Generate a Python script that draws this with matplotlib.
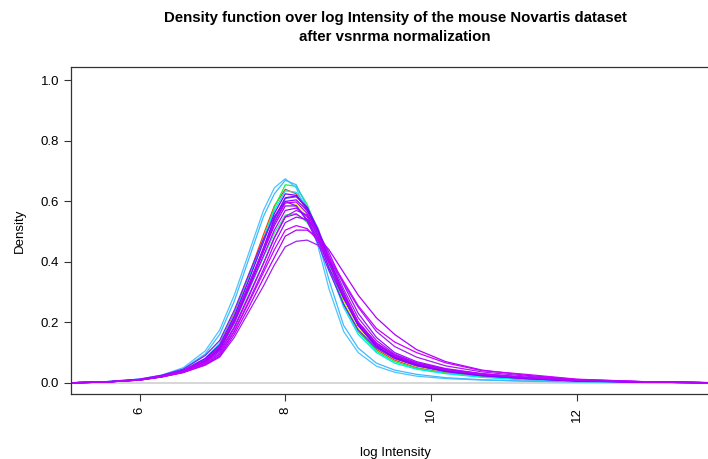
import matplotlib
matplotlib.use("Agg")
import matplotlib.pyplot as plt

plt.rcParams['font.family'] = ['Liberation Sans', 'DejaVu Sans']

# shared x grid (log intensity) for all density curves
x_grid = [5.0, 5.5, 6.0, 6.3, 6.6, 6.9, 7.1, 7.3, 7.5, 7.7, 7.85, 8.0, 8.15,
          8.3, 8.45, 8.6, 8.8, 9.0, 9.25, 9.5, 9.8, 10.2, 10.7, 11.3, 12.0,
          13.0, 14.0]

# density values, one list per sample (drawing order)
dens_red = [0, 0.002, 0.011, 0.023, 0.042, 0.08, 0.13, 0.23, 0.355, 0.49, 0.585, 0.64, 0.625,
            0.57, 0.49, 0.38, 0.26, 0.17, 0.11, 0.075, 0.05, 0.033, 0.02, 0.011, 0.005, 0.002, 0]
dens_yellow = [0, 0.002, 0.01, 0.022, 0.04, 0.075, 0.12, 0.21, 0.325, 0.445, 0.535, 0.595, 0.59,
               0.55, 0.48, 0.39, 0.27, 0.18, 0.115, 0.08, 0.055, 0.036, 0.022, 0.013, 0.006, 0.002, 0]
dens_green1 = [0, 0.002, 0.01, 0.021, 0.04, 0.075, 0.125, 0.22, 0.345, 0.475, 0.58, 0.655, 0.65,
               0.59, 0.50, 0.39, 0.26, 0.17, 0.105, 0.07, 0.048, 0.032, 0.02, 0.011, 0.005, 0.002, 0]
dens_green2 = [0, 0.002, 0.01, 0.021, 0.038, 0.07, 0.11, 0.195, 0.305, 0.415, 0.495, 0.555, 0.56,
               0.53, 0.47, 0.39, 0.28, 0.19, 0.12, 0.085, 0.06, 0.04, 0.025, 0.015, 0.007, 0.002, 0]
dens_cyan = [0, 0.002, 0.01, 0.022, 0.042, 0.08, 0.13, 0.225, 0.345, 0.475, 0.57, 0.635, 0.63,
             0.58, 0.49, 0.38, 0.25, 0.16, 0.10, 0.065, 0.045, 0.03, 0.018, 0.01, 0.005, 0.002, 0]
dens_sky1 = [0, 0.003, 0.012, 0.025, 0.05, 0.105, 0.175, 0.29, 0.43, 0.57, 0.645, 0.675, 0.645,
             0.56, 0.45, 0.31, 0.17, 0.10, 0.055, 0.035, 0.022, 0.014, 0.009, 0.005, 0.003, 0.001, 0]
dens_sky2 = [0, 0.003, 0.012, 0.024, 0.046, 0.095, 0.16, 0.27, 0.41, 0.55, 0.625, 0.67, 0.655,
             0.58, 0.47, 0.34, 0.19, 0.115, 0.065, 0.042, 0.028, 0.017, 0.01, 0.006, 0.003, 0.001, 0]
dens_blue = [0, 0.002, 0.01, 0.022, 0.04, 0.072, 0.115, 0.205, 0.325, 0.445, 0.54, 0.61, 0.615,
             0.58, 0.51, 0.41, 0.29, 0.19, 0.12, 0.082, 0.058, 0.038, 0.024, 0.014, 0.006, 0.002, 0]
dens_p1 = [0, 0.002, 0.01, 0.022, 0.04, 0.08, 0.125, 0.22, 0.34, 0.465, 0.56, 0.625, 0.62,
           0.575, 0.50, 0.40, 0.28, 0.19, 0.12, 0.085, 0.06, 0.04, 0.025, 0.015, 0.007, 0.002, 0]
dens_p2 = [0, 0.002, 0.01, 0.021, 0.038, 0.07, 0.11, 0.20, 0.315, 0.435, 0.53, 0.60, 0.605,
           0.57, 0.50, 0.41, 0.30, 0.20, 0.13, 0.09, 0.064, 0.042, 0.027, 0.016, 0.007, 0.002, 0]
dens_p3 = [0, 0.002, 0.01, 0.022, 0.04, 0.075, 0.12, 0.21, 0.325, 0.435, 0.52, 0.585, 0.585,
           0.54, 0.475, 0.38, 0.28, 0.195, 0.125, 0.09, 0.064, 0.042, 0.027, 0.016, 0.007, 0.002, 0]
dens_p4 = [0, 0.002, 0.009, 0.02, 0.036, 0.065, 0.10, 0.18, 0.285, 0.395, 0.48, 0.55, 0.57,
           0.555, 0.50, 0.42, 0.31, 0.215, 0.14, 0.095, 0.066, 0.044, 0.028, 0.017, 0.008, 0.002, 0]
dens_p5 = [0, 0.003, 0.012, 0.025, 0.045, 0.09, 0.14, 0.24, 0.36, 0.475, 0.55, 0.60, 0.585,
           0.535, 0.46, 0.37, 0.26, 0.175, 0.115, 0.08, 0.056, 0.037, 0.023, 0.014, 0.006, 0.002, 0]
dens_p6 = [0, 0.002, 0.009, 0.02, 0.036, 0.062, 0.095, 0.17, 0.27, 0.375, 0.46, 0.53, 0.548,
           0.54, 0.50, 0.43, 0.325, 0.23, 0.15, 0.10, 0.07, 0.047, 0.03, 0.018, 0.008, 0.002, 0]
dens_p7 = [0, 0.002, 0.01, 0.021, 0.039, 0.072, 0.115, 0.205, 0.32, 0.445, 0.545, 0.612, 0.618,
           0.58, 0.505, 0.405, 0.285, 0.19, 0.12, 0.083, 0.058, 0.038, 0.024, 0.014, 0.006, 0.002, 0]
dens_p8 = [0, 0.002, 0.01, 0.022, 0.04, 0.073, 0.115, 0.20, 0.31, 0.42, 0.505, 0.57, 0.578,
           0.55, 0.485, 0.40, 0.29, 0.20, 0.13, 0.09, 0.064, 0.043, 0.028, 0.017, 0.008, 0.002, 0]
dens_p9 = [0, 0.002, 0.009, 0.019, 0.034, 0.058, 0.085, 0.15, 0.235, 0.32, 0.39, 0.45, 0.468,
           0.472, 0.455, 0.41, 0.33, 0.25, 0.17, 0.12, 0.085, 0.056, 0.036, 0.022, 0.01, 0.003, 0]
dens_p10 = [0, 0.002, 0.009, 0.019, 0.034, 0.06, 0.088, 0.16, 0.25, 0.345, 0.415, 0.485, 0.505,
            0.505, 0.48, 0.44, 0.365, 0.29, 0.215, 0.16, 0.11, 0.07, 0.042, 0.025, 0.011, 0.003, 0]
dens_m1 = [0, 0.002, 0.01, 0.022, 0.04, 0.075, 0.12, 0.21, 0.325, 0.44, 0.53, 0.595, 0.598,
           0.56, 0.49, 0.40, 0.29, 0.20, 0.13, 0.09, 0.064, 0.043, 0.028, 0.017, 0.008, 0.002, 0]
dens_m2 = [0, 0.002, 0.009, 0.02, 0.035, 0.062, 0.093, 0.17, 0.265, 0.365, 0.44, 0.505, 0.52,
           0.51, 0.47, 0.415, 0.335, 0.255, 0.18, 0.135, 0.10, 0.066, 0.04, 0.028, 0.012, 0.003, 0]
dens_m3 = [0, 0.002, 0.01, 0.021, 0.038, 0.068, 0.105, 0.185, 0.29, 0.395, 0.48, 0.548, 0.558,
           0.535, 0.475, 0.395, 0.29, 0.20, 0.132, 0.092, 0.066, 0.045, 0.03, 0.018, 0.009, 0.003, 0]

samples = [dens_red, dens_yellow, dens_green1, dens_green2, dens_cyan, dens_sky1, dens_sky2,
           dens_blue, dens_p1, dens_p2, dens_p3, dens_p4, dens_p5, dens_p6, dens_p7, dens_p8,
           dens_p9, dens_p10, dens_m1, dens_m2, dens_m3]
colors = ['#ff4000', '#d4ff00', '#00ff40', '#33ff66', '#00e5ff', '#4cc3ff', '#40b8ff',
          '#3366ff', '#8000ff', '#8c00ff', '#9900ff', '#a020f0', '#7a1cff', '#9a10ff', '#8a00ff',
          '#a400ff', '#a020f0', '#b000ff', '#c000ff', '#cc00ff', '#b800ff']

fig = plt.figure(figsize=(7.08, 4.59), dpi=100)
ax = fig.add_axes([0.1003, 0.141, 0.9152, 0.712])

ax.axhline(0, color='#d3d3d3', lw=1.3, zorder=1)
for ys, c in zip(samples, colors):
    ax.plot(x_grid, ys, color=c, lw=0.9, zorder=2)

ax.set_xlim(5.06, 13.95)
ax.set_ylim(-0.038, 1.043)
ax.set_xticks([6, 8, 10, 12])
ax.set_yticks([0, 0.2, 0.4, 0.6, 0.8, 1.0])
ax.set_yticklabels(['0.0', '0.2', '0.4', '0.6', '0.8', '1.0'])
ax.tick_params(axis='both', direction='out', length=5, width=0.8, labelsize=9.5, color='#333333')
ax.tick_params(axis='x', labelrotation=90, pad=4)
for sp in ax.spines.values():
    sp.set_color('#333333')
    sp.set_linewidth(0.9)

ax.set_xlabel('log Intensity', fontsize=9.5, labelpad=18)
ax.set_ylabel('Density', fontsize=9.5, labelpad=11)

cx = 395 / 708
fig.text(cx, 1 - 18 / 459, 'Density function over log Intensity of the mouse Novartis dataset',
         ha='center', va='center', fontsize=10.8, fontweight='bold')
fig.text(cx, 1 - 37 / 459, 'after vsnrma normalization',
         ha='center', va='center', fontsize=10.8, fontweight='bold')

fig.savefig('out.png', dpi=100)
